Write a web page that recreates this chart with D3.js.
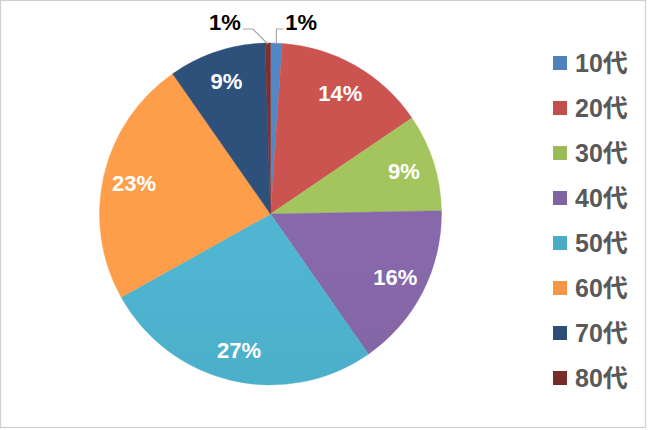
<!DOCTYPE html>
<html><head><meta charset="utf-8">
<script src="https://cdn.jsdelivr.net/npm/d3@7"></script>
<style>
html,body{margin:0;padding:0;background:#fff;}
svg{display:block;font-family:"Liberation Sans",Arial,"Noto Sans CJK JP",sans-serif;}
</style></head>
<body>
<script>
const categories = ["10代","20代","30代","40代","50代","60代","70代","80代"];
const values = [1.1, 14.4, 9.2, 15.6, 26.6, 23.4, 9.2, 0.5];
const colors = ["#4F81BD","#C0504D","#9BBB59","#8064A2","#4BACC6","#F79646","#2C4D75","#772C2A"];
const outsideLabels = [0, 7]; // indices whose labels sit outside with leader lines

const W = 648, H = 430;
const cx = 270.5, cy = 214, R = 171;

const svg = d3.select("body").append("svg").attr("width", W).attr("height", H);
svg.append("rect").attr("x",0.5).attr("y",0.5).attr("width",W-3).attr("height",H-3)
  .attr("fill","#fff").attr("stroke","#cfcfcf").attr("stroke-width",1.2);

const defs = svg.append("defs");
colors.forEach((c,i)=>{
  const base = d3.color(c);
  const g = defs.append("linearGradient").attr("id","g"+i)
    .attr("gradientUnits","userSpaceOnUse").attr("x1",0).attr("y1",cy-R).attr("x2",0).attr("y2",cy+R);
  g.append("stop").attr("offset","0%").attr("stop-color", base.brighter(0.15));
  g.append("stop").attr("offset","100%").attr("stop-color", base.darker(0.1));
});

const pie = d3.pie().sort(null).value(d=>d);
const arcs = pie(values);
const arc = d3.arc().innerRadius(0).outerRadius(R);
const labelArc = d3.arc().innerRadius(140).outerRadius(140);

const gPie = svg.append("g").attr("transform",`translate(${cx},${cy})`);
gPie.selectAll("path").data(arcs).enter().append("path")
  .attr("d",arc).attr("fill",(d,i)=>`url(#g${i})`)
  .attr("stroke",(d,i)=>d3.color(colors[i]).brighter(0.1)).attr("stroke-width",0.4);

const fmt = v => Math.round(v) + "%";

gPie.selectAll("text.in").data(arcs.filter((d,i)=>!outsideLabels.includes(i))).enter()
  .append("text").attr("class","in")
  .attr("transform", d=>`translate(${labelArc.centroid(d)})`)
  .attr("text-anchor","middle").attr("dy","0.36em")
  .attr("fill","#fff").attr("font-weight","bold").attr("font-size",22)
  .text(d=>fmt(d.data));

// outside labels with leader lines
const edge = d3.arc().innerRadius(R-1).outerRadius(R-1);
arcs.forEach((d,i)=>{
  if(!outsideLabels.includes(i)) return;
  const [ex,ey] = edge.centroid(d);
  const mid = (d.startAngle+d.endAngle)/2;
  const right = Math.sin(mid) > 0 && mid < Math.PI;
  const yTop = -R - 14;
  let pts, tx, anchor;
  if(right){
    pts = [[ex,ey],[ex,yTop],[ex+7,yTop]];
    tx = ex+9; anchor="start";
  } else {
    pts = [[ex,ey],[ex-15,yTop],[ex-25,yTop]];
    tx = ex-27; anchor="end";
  }
  gPie.append("polyline").attr("points",pts.map(p=>p.join(",")).join(" "))
    .attr("fill","none").attr("stroke","#a6a6a6").attr("stroke-width",1.2);
  gPie.append("text").attr("x",tx).attr("y",yTop+1)
    .attr("text-anchor",anchor).attr("fill","#000").attr("font-weight","bold").attr("font-size",22)
    .text(fmt(d.data));
});

// legend
const lg = svg.append("g").attr("transform","translate(553,63)");
const rows = lg.selectAll("g").data(categories).enter().append("g")
  .attr("transform",(d,i)=>`translate(0,${i*45})`);
rows.append("rect").attr("x",0).attr("y",-7).attr("width",14).attr("height",14)
  .attr("fill",(d,i)=>colors[i]);
rows.append("text").attr("x",22).attr("y",0).attr("dy","0.36em")
  .attr("fill","#595959").attr("font-weight","bold").attr("font-size",25)
  .text(d=>d);
</script>
</body></html>
